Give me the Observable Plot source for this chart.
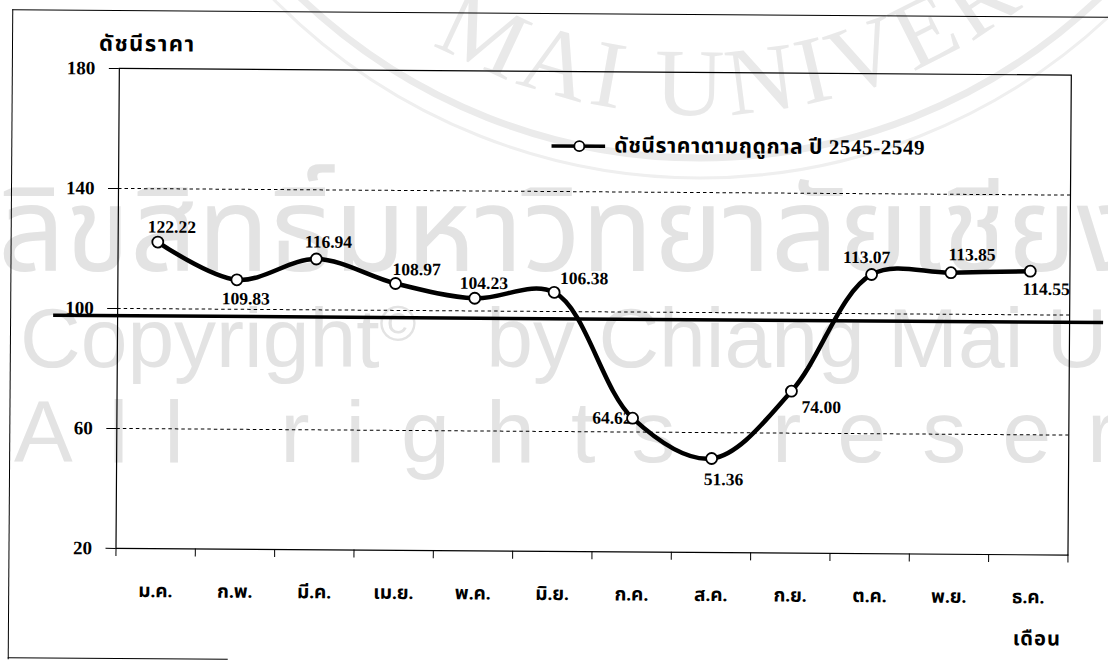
<!DOCTYPE html>
<html>
<head>
<meta charset="utf-8">
<script src="https://cdn.jsdelivr.net/npm/d3@7"></script>
<script src="https://cdn.jsdelivr.net/npm/@observablehq/plot@0.6"></script>
<style>
  html, body { margin: 0; padding: 0; background: #fff; }
  #page { position: relative; width: 1108px; height: 668px; overflow: hidden; background: #fff; }
  .wm { position: absolute; color: #e3e3e3; white-space: pre; line-height: 1; font-family: "Liberation Sans", Arial, sans-serif; }
  #wm1 { left: -2px; top: 176px; font-size: 118px; font-family: "Noto Sans Thai", "Liberation Sans", sans-serif; }
  #wm2 { left: 20px; top: 296px; font-size: 84px; }
  #wm2 .c { font-size: 50px; vertical-align: 26px; }
  #wm3 { left: 14px; top: 388px; font-size: 88px; letter-spacing: 36px; }
  #seal { position: absolute; left: 0; top: 0; }
  #fig { position: absolute; left: 0; top: 0; width: 1108px; height: 668px; transform: rotate(0.4deg); transform-origin: 554px 334px; }
  #outer { position: absolute; left: 10px; top: 13px; width: 1200px; height: 649px; border-left: 1.5px solid #000; border-top: 1.5px solid #000; }
  #outerBottom { position: absolute; left: 10px; top: 661px; width: 220px; border-top: 1.5px solid #000; }
  #chart { position: absolute; left: 0; top: 0; }
  .thai { font-family: "Liberation Serif", "Noto Sans Thai", serif; font-weight: bold; color: #000; position: absolute; white-space: nowrap; line-height: 1; }
  #title { left: 97px; top: 36px; font-size: 22px; letter-spacing: 1.5px; }
  #xlabel { right: 45px; top: 625px; font-size: 20px; letter-spacing: 1px; }
  #legend { left: 550px; top: 135px; display: flex; align-items: center; font-size: 21px; }
  #legend span { letter-spacing: 0.6px; }
  #legend svg { margin-right: 9px; }
</style>
</head>
<body>
<div id="page">
  <svg id="seal" width="1108" height="668">
    <defs>
      <path id="sealArc" d="M 165 -420 A 535 535 0 0 0 1235 -420"></path>
    </defs>
    <circle cx="700" cy="-420" r="578" fill="none" stroke="#ebebeb" stroke-width="7"></circle>
    <circle cx="700" cy="-420" r="598" fill="none" stroke="#efefef" stroke-width="3"></circle>
    <text fill="#e9e9e9" font-family="'Liberation Serif', serif" font-size="96" letter-spacing="6">
      <textPath href="#sealArc" startOffset="560">MAI UNIVERSITY</textPath>
    </text>
  </svg>
  <div class="wm" id="wm1">ลิขสิทธิ์มหาวิทยาลัยเชียงใหม่</div>
  <div class="wm" id="wm2">Copyright<span class="c">©</span>   by Chiang Mai University</div>
  <div class="wm" id="wm3">All rights reserved</div>
  <div id="fig">
    <div id="outer"></div>
    <div id="outerBottom"></div>
    <div id="chart"></div>
    <div class="thai" id="title"></div>
    <div class="thai" id="legend"></div>
    <div class="thai" id="xlabel"></div>
  </div>
</div>
<script>
// ---- data ----
const months = ["ม.ค.", "ก.พ.", "มี.ค.", "เม.ย.", "พ.ค.", "มิ.ย.", "ก.ค.", "ส.ค.", "ก.ย.", "ต.ค.", "พ.ย.", "ธ.ค."];
const values = [122.22, 109.83, 116.94, 108.97, 104.23, 106.38, 64.62, 51.36, 74.00, 113.07, 113.85, 114.55];
const yTicks = [20, 60, 100, 140, 180];
const gridValues = [60, 100, 140];
const referenceLine = 97.6;
const yTitle = "ดัชนีราคา";
const xTitle = "เดือน";
const seriesName = "ดัชนีราคาตามฤดูกาล ปี 2545-2549";

// ---- label placement (style, not data) ----
const labelPlacement = [
  {dx: 14, dy: -15, anchor: "middle"},
  {dx: 9, dy: 19, anchor: "middle"},
  {dx: 12, dy: -17, anchor: "middle"},
  {dx: 21, dy: -14, anchor: "middle"},
  {dx: 9, dy: -15, anchor: "middle"},
  {dx: 30, dy: -14, anchor: "middle"},
  {dx: -1, dy: 0, anchor: "end"},
  {dx: 12, dy: 21, anchor: "middle"},
  {dx: 30, dy: 16, anchor: "middle"},
  {dx: -5, dy: -17, anchor: "middle"},
  {dx: 21, dy: -18, anchor: "middle"},
  {dx: 16, dy: 18, anchor: "middle"}
];

const rows = months.map((m, i) => ({index: i, month: m, value: values[i]}));
const xPos = d => d.index + 0.5;
const serif = "'Liberation Serif', 'Times New Roman', serif";
const thaiFont = "'Liberation Serif', 'Noto Sans Thai', serif";

const labelMarks = rows.map((d, i) => Plot.text([d], {
  x: xPos, y: "value",
  text: r => r.value.toFixed(2),
  dx: labelPlacement[i].dx, dy: labelPlacement[i].dy,
  textAnchor: labelPlacement[i].anchor,
  fontFamily: serif, fontSize: 17.5, fontWeight: "bold", fill: "#000"
}));

const chart = Plot.plot({
  width: 1108,
  height: 668,
  marginLeft: 117,
  marginRight: 39,
  marginTop: 71,
  marginBottom: 117,
  style: {background: "transparent", fontFamily: serif, fontSize: "18px", fontWeight: "bold", color: "#000", overflow: "visible"},
  x: {type: "linear", domain: [0, months.length]},
  y: {domain: [20, 180]},
  marks: [
    Plot.ruleY(gridValues, {stroke: "#000", strokeWidth: 1, strokeDasharray: "3.5,3"}),
    Plot.frame({stroke: "#000", strokeWidth: 1.2}),
    Plot.axisY({ticks: yTicks, tickSize: 10, tickPadding: 14, label: null, fontSize: 19, fontFamily: serif, fontWeight: "bold"}),
    Plot.axisX({ticks: d3.range(months.length + 1), tickSize: 8, tickFormat: () => "", label: null}),
    Plot.axisX({ticks: d3.range(months.length).map(i => i + 0.5), tickSize: 0, tickPadding: 35,
      tickFormat: t => months[Math.floor(t)], label: null, fontSize: 19, fontFamily: thaiFont, fontWeight: "bold"}),
    Plot.ruleY([referenceLine], {stroke: "#000", strokeWidth: 3.5, insetLeft: -64, insetRight: -34}),
    Plot.line(rows, {x: xPos, y: "value", curve: "catmull-rom", stroke: "#000", strokeWidth: 4.5}),
    ...labelMarks,
    Plot.dot(rows, {x: xPos, y: "value", r: 5.5, fill: "#fff", stroke: "#000", strokeWidth: 1.8})
  ]
});
document.getElementById("chart").appendChild(chart);

document.getElementById("title").textContent = yTitle;
document.getElementById("xlabel").textContent = xTitle;
const legend = document.getElementById("legend");
legend.innerHTML = `<svg width="54" height="14"><line x1="0" y1="7" x2="54" y2="7" stroke="#000" stroke-width="3.5"/><circle cx="28" cy="7" r="5" fill="#fff" stroke="#000" stroke-width="1.8"/></svg>`;
const legendText = document.createElement("span");
legendText.textContent = seriesName;
legend.appendChild(legendText);
</script>
</body>
</html>
